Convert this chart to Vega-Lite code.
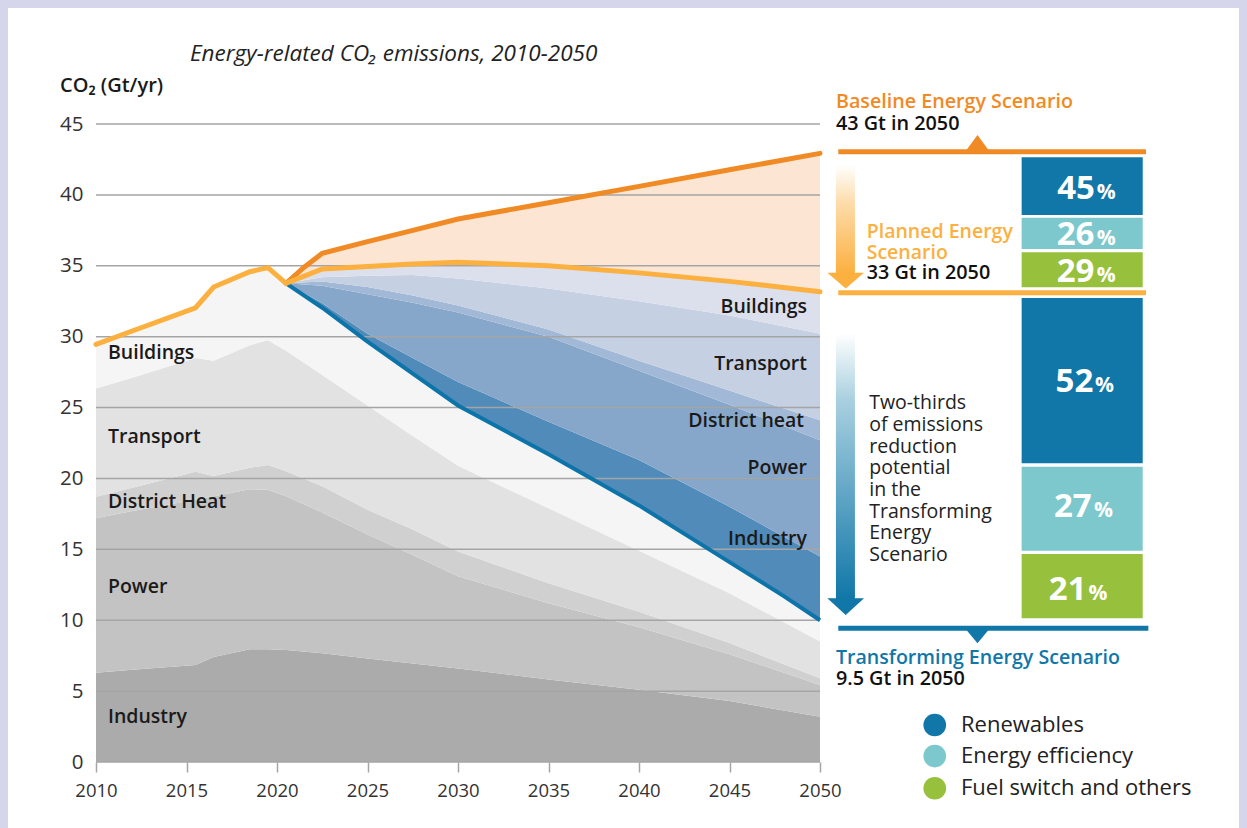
{
"$schema": "https://vega.github.io/schema/vega-lite/v6.json",
"width": 1231, "height": 820,
"autosize": "none",
"padding": {"left": 8, "top": 8, "right": 8, "bottom": 0},
"background": "#d5d5ec",
"config": {"view": {"stroke": null, "fill": "#ffffff"}, "font": "Open Sans"},
"datasets": {
"bands": [
{"b":"gI","x":2010,"lo":0,"y":6.3},{"b":"gI","x":2012,"lo":0,"y":6.5},{"b":"gI","x":2015.5,"lo":0,"y":6.85},{"b":"gI","x":2016.5,"lo":0,"y":7.4},{"b":"gI","x":2018.5,"lo":0,"y":7.95},{"b":"gI","x":2019.5,"lo":0,"y":7.95},{"b":"gI","x":2020.5,"lo":0,"y":7.9},{"b":"gI","x":2022.5,"lo":0,"y":7.67},{"b":"gI","x":2025,"lo":0,"y":7.3},{"b":"gI","x":2027.5,"lo":0,"y":6.95},{"b":"gI","x":2030,"lo":0,"y":6.6},{"b":"gI","x":2035,"lo":0,"y":5.82},{"b":"gI","x":2040,"lo":0,"y":5.1},{"b":"gI","x":2045,"lo":0,"y":4.3},{"b":"gI","x":2050,"lo":0,"y":3.2},
{"b":"gP","x":2010,"lo":6.3,"y":17.2},{"b":"gP","x":2012,"lo":6.5,"y":17.7},{"b":"gP","x":2015.5,"lo":6.85,"y":18.5},{"b":"gP","x":2016.5,"lo":7.4,"y":18.75},{"b":"gP","x":2018.5,"lo":7.95,"y":19.23},{"b":"gP","x":2019.5,"lo":7.95,"y":19.2},{"b":"gP","x":2020.5,"lo":7.9,"y":18.75},{"b":"gP","x":2022.5,"lo":7.67,"y":17.6},{"b":"gP","x":2025,"lo":7.3,"y":16.05},{"b":"gP","x":2027.5,"lo":6.95,"y":14.6},{"b":"gP","x":2030,"lo":6.6,"y":13.1},{"b":"gP","x":2035,"lo":5.82,"y":11.2},{"b":"gP","x":2040,"lo":5.1,"y":9.5},{"b":"gP","x":2045,"lo":4.3,"y":7.6},{"b":"gP","x":2050,"lo":3.2,"y":5.43},
{"b":"gD","x":2010,"lo":17.2,"y":18.71},{"b":"gD","x":2012,"lo":17.7,"y":19.35},{"b":"gD","x":2015.5,"lo":18.5,"y":20.48},{"b":"gD","x":2016.5,"lo":18.75,"y":20.17},{"b":"gD","x":2018.5,"lo":19.23,"y":20.75},{"b":"gD","x":2019.5,"lo":19.2,"y":20.95},{"b":"gD","x":2020.5,"lo":18.75,"y":20.5},{"b":"gD","x":2022.5,"lo":17.6,"y":19.45},{"b":"gD","x":2025,"lo":16.05,"y":17.8},{"b":"gD","x":2027.5,"lo":14.6,"y":16.4},{"b":"gD","x":2030,"lo":13.1,"y":14.85},{"b":"gD","x":2035,"lo":11.2,"y":12.6},{"b":"gD","x":2040,"lo":9.5,"y":10.6},{"b":"gD","x":2045,"lo":7.6,"y":8.4},{"b":"gD","x":2050,"lo":5.43,"y":5.9},
{"b":"gT","x":2010,"lo":18.71,"y":26.35},{"b":"gT","x":2012,"lo":19.35,"y":27.1},{"b":"gT","x":2015.5,"lo":20.48,"y":28.5},{"b":"gT","x":2016.5,"lo":20.17,"y":28.3},{"b":"gT","x":2018.5,"lo":20.75,"y":29.4},{"b":"gT","x":2019.5,"lo":20.95,"y":29.75},{"b":"gT","x":2020.5,"lo":20.5,"y":29.0},{"b":"gT","x":2022.5,"lo":19.45,"y":27.3},{"b":"gT","x":2025,"lo":17.8,"y":25.15},{"b":"gT","x":2027.5,"lo":16.4,"y":23.0},{"b":"gT","x":2030,"lo":14.85,"y":20.9},{"b":"gT","x":2035,"lo":12.6,"y":17.9},{"b":"gT","x":2040,"lo":10.6,"y":14.9},{"b":"gT","x":2045,"lo":8.4,"y":11.9},{"b":"gT","x":2050,"lo":5.9,"y":8.5},
{"b":"gB","x":2010,"lo":26.35,"y":29.46},{"b":"gB","x":2012,"lo":27.1,"y":30.4},{"b":"gB","x":2015.5,"lo":28.5,"y":32.04},{"b":"gB","x":2016.5,"lo":28.3,"y":33.5},{"b":"gB","x":2018.5,"lo":29.4,"y":34.58},{"b":"gB","x":2019.5,"lo":29.75,"y":34.87},{"b":"gB","x":2020.5,"lo":29.0,"y":33.76},{"b":"gB","x":2022.5,"lo":27.3,"y":32.04},{"b":"gB","x":2025,"lo":25.15,"y":29.65},{"b":"gB","x":2027.5,"lo":23.0,"y":27.4},{"b":"gB","x":2030,"lo":20.9,"y":25.15},{"b":"gB","x":2035,"lo":17.9,"y":21.7},{"b":"gB","x":2040,"lo":14.9,"y":18.1},{"b":"gB","x":2045,"lo":11.9,"y":14.1},{"b":"gB","x":2050,"lo":8.5,"y":10.0},
{"b":"bI","x":2020.5,"lo":33.76,"y":33.76},{"b":"bI","x":2022.5,"lo":32.04,"y":32.35},{"b":"bI","x":2025,"lo":29.65,"y":30.2},{"b":"bI","x":2027.5,"lo":27.4,"y":28.5},{"b":"bI","x":2030,"lo":25.15,"y":26.8},{"b":"bI","x":2035,"lo":21.7,"y":24.0},{"b":"bI","x":2040,"lo":18.1,"y":21.3},{"b":"bI","x":2045,"lo":14.1,"y":18.0},{"b":"bI","x":2050,"lo":10.0,"y":14.5},
{"b":"bP","x":2020.5,"lo":33.76,"y":33.76},{"b":"bP","x":2022.5,"lo":32.35,"y":33.6},{"b":"bP","x":2025,"lo":30.2,"y":33.0},{"b":"bP","x":2027.5,"lo":28.5,"y":32.4},{"b":"bP","x":2030,"lo":26.8,"y":31.7},{"b":"bP","x":2035,"lo":24.0,"y":30.0},{"b":"bP","x":2040,"lo":21.3,"y":27.6},{"b":"bP","x":2045,"lo":18.0,"y":25.2},{"b":"bP","x":2050,"lo":14.5,"y":22.7},
{"b":"bD","x":2020.5,"lo":33.76,"y":33.76},{"b":"bD","x":2022.5,"lo":33.6,"y":33.9},{"b":"bD","x":2025,"lo":33.0,"y":33.5},{"b":"bD","x":2027.5,"lo":32.4,"y":32.9},{"b":"bD","x":2030,"lo":31.7,"y":32.2},{"b":"bD","x":2035,"lo":30.0,"y":30.5},{"b":"bD","x":2040,"lo":27.6,"y":28.3},{"b":"bD","x":2045,"lo":25.2,"y":26.2},{"b":"bD","x":2050,"lo":22.7,"y":24.1},
{"b":"bT","x":2020.5,"lo":33.76,"y":33.76},{"b":"bT","x":2022.5,"lo":33.9,"y":34.2},{"b":"bT","x":2025,"lo":33.5,"y":34.3},{"b":"bT","x":2027.5,"lo":32.9,"y":34.35},{"b":"bT","x":2030,"lo":32.2,"y":34.1},{"b":"bT","x":2035,"lo":30.5,"y":33.4},{"b":"bT","x":2040,"lo":28.3,"y":32.5},{"b":"bT","x":2045,"lo":26.2,"y":31.5},{"b":"bT","x":2050,"lo":24.1,"y":30.2},
{"b":"bB","x":2020.5,"lo":33.76,"y":33.76},{"b":"bB","x":2022.5,"lo":34.2,"y":34.77},{"b":"bB","x":2025,"lo":34.3,"y":34.95},{"b":"bB","x":2027.5,"lo":34.35,"y":35.12},{"b":"bB","x":2030,"lo":34.1,"y":35.25},{"b":"bB","x":2035,"lo":33.4,"y":35.0},{"b":"bB","x":2040,"lo":32.5,"y":34.5},{"b":"bB","x":2045,"lo":31.5,"y":33.9},{"b":"bB","x":2050,"lo":30.2,"y":33.17},
{"b":"or","x":2020.5,"lo":33.76,"y":33.76},{"b":"or","x":2021.5,"lo":34.3,"y":34.9},{"b":"or","x":2022.5,"lo":34.77,"y":35.88},{"b":"or","x":2025,"lo":34.95,"y":36.7},{"b":"or","x":2027.5,"lo":35.12,"y":37.5},{"b":"or","x":2030,"lo":35.25,"y":38.3},{"b":"or","x":2035,"lo":35.0,"y":39.45},{"b":"or","x":2040,"lo":34.5,"y":40.6},{"b":"or","x":2045,"lo":33.9,"y":41.77},{"b":"or","x":2050,"lo":33.17,"y":42.93}
],
"grid": [{"x":2010,"x2":2050,"y":0},{"x":2010,"x2":2050,"y":5},{"x":2010,"x2":2050,"y":10},{"x":2010,"x2":2050,"y":15},{"x":2010,"x2":2050,"y":20},{"x":2010,"x2":2050,"y":25},{"x":2010,"x2":2050,"y":30},{"x":2010,"x2":2050,"y":35},{"x":2010,"x2":2050,"y":40},{"x":2010,"x2":2050,"y":45}],
"tline": [{"x":2020.5,"y":33.76},{"x":2022.5,"y":32.04},{"x":2025,"y":29.65},{"x":2027.5,"y":27.4},{"x":2030,"y":25.15},{"x":2035,"y":21.7},{"x":2040,"y":18.1},{"x":2045,"y":14.1},{"x":2048,"y":11.7},{"x":2050,"y":10.0}],
"bline": [{"x":2020.5,"y":33.76},{"x":2021.5,"y":34.9},{"x":2022.5,"y":35.88},{"x":2025,"y":36.7},{"x":2027.5,"y":37.5},{"x":2030,"y":38.3},{"x":2035,"y":39.45},{"x":2040,"y":40.6},{"x":2045,"y":41.77},{"x":2050,"y":42.93}],
"yline": [{"x":2010,"y":29.46},{"x":2012,"y":30.4},{"x":2015.5,"y":32.04},{"x":2016.5,"y":33.5},{"x":2018.5,"y":34.58},{"x":2019.5,"y":34.87},{"x":2020.5,"y":33.76},{"x":2022.5,"y":34.77},{"x":2025,"y":34.95},{"x":2027.5,"y":35.12},{"x":2030,"y":35.25},{"x":2035,"y":35.0},{"x":2040,"y":34.5},{"x":2045,"y":33.9},{"x":2050,"y":33.17}],
"glab": [{"x":2010.66,"y":28.85,"t":"Buildings"},{"x":2010.66,"y":22.92,"t":"Transport"},{"x":2010.66,"y":18.34,"t":"District Heat"},{"x":2010.66,"y":12.34,"t":"Power"},{"x":2010.66,"y":3.17,"t":"Industry"}],
"blab": [{"x":2049.28,"y":32.09,"t":"Buildings"},{"x":2049.28,"y":28.07,"t":"Transport"},{"x":2049.12,"y":24.05,"t":"District heat"},{"x":2049.28,"y":20.74,"t":"Power"},{"x":2049.28,"y":15.73,"t":"Industry"}],
"ttl": [{"x":2015.19,"y":49.94,"t":"Energy-related CO₂ emissions, 2010-2050"}],
"ytl": [{"x":2008.01,"y":47.68,"t":"CO₂ (Gt/yr)"}],
"orT": [{"x":2050.88,"y":46.55,"t":"Baseline Energy Scenario"}],
"ylT": [{"x":2052.58,"y":37.4,"t":"Planned Energy"},{"x":2052.58,"y":35.88,"t":"Scenario"}],
"blT": [{"x":2050.88,"y":7.34,"t":"Transforming Energy Scenario"}],
"bkT": [{"x":2050.88,"y":45.0,"t":"43 Gt in 2050"},{"x":2052.58,"y":34.51,"t":"33 Gt in 2050"},{"x":2050.88,"y":5.86,"t":"9.5 Gt in 2050"}],
"note": [{"x":2052.72,"y":25.3,"t":"Two-thirds"},{"x":2052.72,"y":23.77,"t":"of emissions"},{"x":2052.72,"y":22.24,"t":"reduction"},{"x":2052.72,"y":20.71,"t":"potential"},{"x":2052.72,"y":19.19,"t":"in the"},{"x":2052.72,"y":17.66,"t":"Transforming"},{"x":2052.72,"y":16.13,"t":"Energy"},{"x":2052.72,"y":14.6,"t":"Scenario"}],
"hbO": [{"x":2051.01,"x2":2068.01,"y":43.05}],
"hbY": [{"x":2051.01,"x2":2068.01,"y":33.1}],
"hbB": [{"x":2051.01,"x2":2068.14,"y":9.43}],
"triO": [{"x":2058.7,"y":43.17}],
"triB": [{"x":2058.7,"y":9.31}],
"arO": [{"x":2050.88,"x2":2051.93,"y":42.11,"y2":34.49}],
"arB": [{"x":2050.88,"x2":2051.93,"y":30.24,"y2":11.5}],
"hdO": [{"x":2051.42,"y":34.51}],
"hdB": [{"x":2051.42,"y":11.55}],
"bars": [{"b":"Ren","x":2061.14,"x2":2067.83,"y":42.65,"y2":38.58},{"b":"EE","x":2061.14,"x2":2067.83,"y":38.39,"y2":36.18},{"b":"FS","x":2061.14,"x2":2067.83,"y":35.95,"y2":33.48},{"b":"Ren","x":2061.14,"x2":2067.83,"y":32.73,"y2":21.07},{"b":"EE","x":2061.14,"x2":2067.83,"y":20.83,"y2":14.9},{"b":"FS","x":2061.14,"x2":2067.83,"y":14.67,"y2":10.14}],
"pnum": [{"x":2065.19,"y":39.69,"t":"45"},{"x":2065.16,"y":36.47,"t":"26"},{"x":2065.16,"y":33.84,"t":"29"},{"x":2065.1,"y":26.12,"t":"52"},{"x":2065.01,"y":17.3,"t":"27"},{"x":2064.73,"y":11.43,"t":"21"}],
"psign": [{"x":2065.29,"y":39.69,"t":"%"},{"x":2065.29,"y":36.47,"t":"%"},{"x":2065.29,"y":33.84,"t":"%"},{"x":2065.19,"y":26.12,"t":"%"},{"x":2065.14,"y":17.3,"t":"%"},{"x":2064.83,"y":11.43,"t":"%"}],
"leg": [{"x":2056.34,"y":2.61,"b":"Ren"},{"x":2056.34,"y":0.42,"b":"EE"},{"x":2056.34,"y":-1.85,"b":"FS"}],
"legt": [{"x":2057.79,"y":2.61,"t":"Renewables"},{"x":2057.79,"y":0.42,"t":"Energy efficiency"},{"x":2057.79,"y":-1.85,"t":"Fuel switch and others"}]
},
"encoding": {
"x": {"field": "x", "type": "quantitative", "scale": {"domain": [2005.138, 2073.149], "nice": false, "zero": false},
 "axis": {"title": null, "values": [2010,2015,2020,2025,2030,2035,2040,2045,2050], "format": "d", "domain": false, "grid": false, "ticks": true, "tickSize": 10, "tickColor": "#a5a5a5", "tickWidth": 1.5, "offset": -66, "labelPadding": 9, "labelFontSize": 18.5, "labelColor": "#333333", "labelFont": "Open Sans", "labelOverlap": false, "labelFlush": false}},
"y": {"field": "y", "type": "quantitative", "scale": {"domain": [-4.654, 53.182], "nice": false, "zero": false},
 "axis": {"title": null, "values": [0,5,10,15,20,25,30,35,40,45], "domain": false, "grid": false, "ticks": false, "offset": -88, "labelPadding": 13, "labelFontSize": 20.5, "labelColor": "#333333", "labelFont": "Open Sans", "labelOverlap": false}}
},
"layer": [
{"data": {"name": "bands"}, "mark": {"type": "area", "opacity": 1},
 "encoding": {"y2": {"field": "lo"}, "color": {"field": "b", "type": "nominal", "legend": null,
  "scale": {"domain": ["gB","gT","gD","gP","gI","bB","bT","bD","bP","bI","or","Ren","EE","FS"], "range": ["#f5f5f5","#e2e2e2","#d0d0d0","#c3c3c3","#ababab","#dbe0ec","#c5d0e2","#a1b8d6","#86a7ca","#508bb9","#fce6d3","#1077a8","#7dc8cd","#97c03d"]}}}},
{"data": {"name": "grid"}, "mark": {"type": "rule", "color": "#a5a5a5", "strokeWidth": 1.5}, "encoding": {"x2": {"field": "x2"}}},
{"data": {"name": "tline"}, "mark": {"type": "line", "color": "#0c74a8", "strokeWidth": 4}, "encoding": {}},
{"data": {"name": "bline"}, "mark": {"type": "line", "color": "#f08a24", "strokeWidth": 5, "strokeCap": "round"}, "encoding": {}},
{"data": {"name": "yline"}, "mark": {"type": "line", "color": "#fbb040", "strokeWidth": 5, "strokeCap": "round"}, "encoding": {}},
{"data": {"name": "glab"}, "mark": {"type": "text", "align": "left", "baseline": "middle", "fontSize": 19.5, "fontWeight": 600, "color": "#1a1a1a"}, "encoding": {"text": {"field": "t"}}},
{"data": {"name": "blab"}, "mark": {"type": "text", "align": "right", "baseline": "middle", "fontSize": 19.5, "fontWeight": 600, "color": "#1a1a1a"}, "encoding": {"text": {"field": "t"}}},
{"data": {"name": "ttl"}, "mark": {"type": "text", "align": "left", "baseline": "middle", "fontSize": 22.5, "fontStyle": "italic", "color": "#222222"}, "encoding": {"text": {"field": "t"}}},
{"data": {"name": "ytl"}, "mark": {"type": "text", "align": "left", "baseline": "middle", "fontSize": 20, "fontWeight": 600, "color": "#1a1a1a"}, "encoding": {"text": {"field": "t"}}},
{"data": {"name": "orT"}, "mark": {"type": "text", "align": "left", "baseline": "middle", "fontSize": 19.7, "fontWeight": 600, "color": "#f08a24"}, "encoding": {"text": {"field": "t"}}},
{"data": {"name": "ylT"}, "mark": {"type": "text", "align": "left", "baseline": "middle", "fontSize": 19.5, "fontWeight": 600, "color": "#fbb040"}, "encoding": {"text": {"field": "t"}}},
{"data": {"name": "blT"}, "mark": {"type": "text", "align": "left", "baseline": "middle", "fontSize": 19.6, "fontWeight": 600, "color": "#1077a8"}, "encoding": {"text": {"field": "t"}}},
{"data": {"name": "bkT"}, "mark": {"type": "text", "align": "left", "baseline": "middle", "fontSize": 19.8, "fontWeight": 600, "color": "#111111"}, "encoding": {"text": {"field": "t"}}},
{"data": {"name": "note"}, "mark": {"type": "text", "align": "left", "baseline": "middle", "fontSize": 19.5, "color": "#222222"}, "encoding": {"text": {"field": "t"}}},
{"data": {"name": "hbO"}, "mark": {"type": "rule", "color": "#f08a24", "strokeWidth": 5}, "encoding": {"x2": {"field": "x2"}}},
{"data": {"name": "hbY"}, "mark": {"type": "rule", "color": "#fbb040", "strokeWidth": 5}, "encoding": {"x2": {"field": "x2"}}},
{"data": {"name": "hbB"}, "mark": {"type": "rule", "color": "#1077a8", "strokeWidth": 5}, "encoding": {"x2": {"field": "x2"}}},
{"data": {"name": "triO"}, "mark": {"type": "point", "shape": "M-1,0L1,0L0,-1.36Z", "size": 484, "filled": true, "opacity": 1, "color": "#f08a24"}, "encoding": {}},
{"data": {"name": "triB"}, "mark": {"type": "point", "shape": "M-1,0L1,0L0,1.2Z", "size": 484, "filled": true, "opacity": 1, "color": "#1077a8"}, "encoding": {}},
{"data": {"name": "arO"}, "mark": {"type": "rect", "color": {"gradient": "linear", "x1": 0, "y1": 0, "x2": 0, "y2": 1, "stops": [{"offset": 0, "color": "#ffffff"}, {"offset": 0.35, "color": "#fddcaa"}, {"offset": 1, "color": "#fbb040"}]}}, "encoding": {"x2": {"field": "x2"}, "y2": {"field": "y2"}}},
{"data": {"name": "arB"}, "mark": {"type": "rect", "color": {"gradient": "linear", "x1": 0, "y1": 0, "x2": 0, "y2": 1, "stops": [{"offset": 0, "color": "#ffffff"}, {"offset": 0.25, "color": "#a9d0e0"}, {"offset": 1, "color": "#1077a8"}]}}, "encoding": {"x2": {"field": "x2"}, "y2": {"field": "y2"}}},
{"data": {"name": "hdO"}, "mark": {"type": "point", "shape": "M-1,0L1,0L0,0.86Z", "size": 1340, "filled": true, "opacity": 1, "color": "#fbb040"}, "encoding": {}},
{"data": {"name": "hdB"}, "mark": {"type": "point", "shape": "M-1,0L1,0L0,0.91Z", "size": 1340, "filled": true, "opacity": 1, "color": "#1077a8"}, "encoding": {}},
{"data": {"name": "bars"}, "mark": {"type": "rect"},
 "encoding": {"x2": {"field": "x2"}, "y2": {"field": "y2"}, "color": {"field": "b", "type": "nominal", "legend": null,
  "scale": {"domain": ["gB","gT","gD","gP","gI","bB","bT","bD","bP","bI","or","Ren","EE","FS"], "range": ["#f5f5f5","#e2e2e2","#d0d0d0","#c3c3c3","#ababab","#dbe0ec","#c5d0e2","#a1b8d6","#86a7ca","#508bb9","#fce6d3","#1077a8","#7dc8cd","#97c03d"]}}}},
{"data": {"name": "pnum"}, "mark": {"type": "text", "align": "right", "baseline": "alphabetic", "fontSize": 33, "fontWeight": "bold", "color": "#ffffff"}, "encoding": {"text": {"field": "t"}}},
{"data": {"name": "psign"}, "mark": {"type": "text", "align": "left", "baseline": "alphabetic", "fontSize": 21, "fontWeight": "bold", "color": "#ffffff"}, "encoding": {"text": {"field": "t"}}},
{"data": {"name": "leg"}, "mark": {"type": "point", "shape": "circle", "size": 515, "filled": true, "opacity": 1},
 "encoding": {"color": {"field": "b", "type": "nominal", "legend": null,
  "scale": {"domain": ["gB","gT","gD","gP","gI","bB","bT","bD","bP","bI","or","Ren","EE","FS"], "range": ["#f5f5f5","#e2e2e2","#d0d0d0","#c3c3c3","#ababab","#dbe0ec","#c5d0e2","#a1b8d6","#86a7ca","#508bb9","#fce6d3","#1077a8","#7dc8cd","#97c03d"]}}}},
{"data": {"name": "legt"}, "mark": {"type": "text", "align": "left", "baseline": "middle", "fontSize": 22, "color": "#222222"}, "encoding": {"text": {"field": "t"}}}
]
}
